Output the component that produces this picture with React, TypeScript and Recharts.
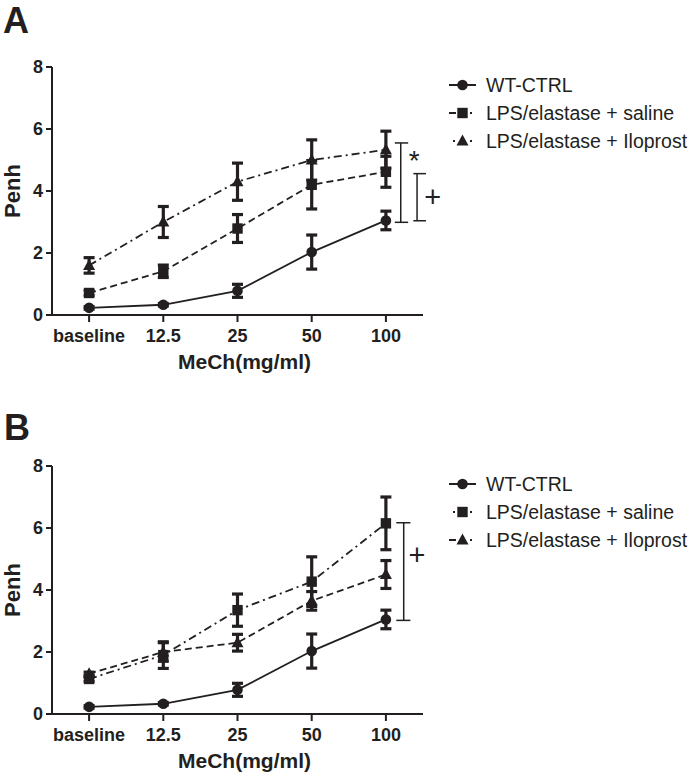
import React from 'react';
import { LineChart, Line, XAxis, YAxis, ErrorBar, ReferenceLine, ReferenceDot, Legend } from 'recharts';

// ---------- data ----------
const categories = ['baseline', '12.5', '25', '50', '100'];
const yTicks = [0, 2, 4, 6, 8];
const seriesNames = ['WT-CTRL', 'LPS/elastase + saline', 'LPS/elastase + Iloprost'];

const wtMean = [0.23, 0.33, 0.78, 2.03, 3.05];
const wtErr = [0.04, 0.04, 0.21, 0.55, 0.3];

const salineMeanA = [0.71, 1.41, 2.79, 4.2, 4.62];
const salineErrA = [0.08, 0.2, 0.45, 0.78, 0.5];
const iloMeanA = [1.6, 3.0, 4.3, 5.0, 5.33];
const iloErrA = [0.25, 0.5, 0.6, 0.65, 0.6];

const salineMeanB = [1.13, 1.9, 3.35, 4.27, 6.15];
const salineErrB = [0.08, 0.43, 0.52, 0.8, 0.85];
const iloMeanB = [1.3, 2.0, 2.3, 3.65, 4.5];
const iloErrB = [0.05, 0.3, 0.27, 0.3, 0.45];

// significance brackets (Penh range spanned, mark)
const bracketsA = [
  { low: 2.99, high: 5.55, mark: '*' },
  { low: 3.04, high: 4.56, mark: '+' },
];
const bracketsB = [{ low: 3.02, high: 6.17, mark: '+' }];

// ---------- styles ----------
const INK = '#231f20';
const SANS = '"Liberation Sans", Arial, Helvetica, sans-serif';
const DASH = '7 4';
const DASHDOT = '8 4 2 4';

const buildRows = (wt: number[], we: number[], sal: number[], se: number[], ilo: number[], ie: number[]) =>
  categories.map((c, i) => ({
    x: i,
    label: c,
    wt: wt[i],
    wtErr: we[i],
    sal: sal[i],
    salErr: se[i],
    ilo: ilo[i],
    iloErr: ie[i],
  }));

const dataA = buildRows(wtMean, wtErr, salineMeanA, salineErrA, iloMeanA, iloErrA);
const dataB = buildRows(wtMean, wtErr, salineMeanB, salineErrB, iloMeanB, iloErrB);

type Shape = 'circle' | 'square' | 'triangle';

function Marker({ shape, cx, cy }: { shape: Shape; cx: number; cy: number }) {
  if (shape === 'circle') return <circle cx={cx} cy={cy} r={5.3} fill={INK} />;
  if (shape === 'square') return <rect x={cx - 5.2} y={cy - 5.2} width={10.4} height={10.4} fill={INK} />;
  return <polygon points={`${cx},${cy - 6.5} ${cx + 6},${cy + 4.5} ${cx - 6},${cy + 4.5}`} fill={INK} />;
}

type Seg = 'line' | 'dash' | 'dot';
type SeriesCfg = { key: string; name: string; shape: Shape; dash?: string; left: Seg; right: Seg };

const seriesA: SeriesCfg[] = [
  { key: 'wt', name: seriesNames[0], shape: 'circle', left: 'line', right: 'line' },
  { key: 'sal', name: seriesNames[1], shape: 'square', dash: DASH, left: 'dash', right: 'dot' },
  { key: 'ilo', name: seriesNames[2], shape: 'triangle', dash: DASHDOT, left: 'dot', right: 'dot' },
];
const seriesB: SeriesCfg[] = [
  { key: 'wt', name: seriesNames[0], shape: 'circle', left: 'line', right: 'line' },
  { key: 'sal', name: seriesNames[1], shape: 'square', dash: DASHDOT, left: 'dot', right: 'dot' },
  { key: 'ilo', name: seriesNames[2], shape: 'triangle', dash: DASH, left: 'dash', right: 'dot' },
];

function LegendSym({ s }: { s: SeriesCfg }) {
  const y = 10;
  const seg = (kind: Seg, side: 'l' | 'r') => {
    if (side === 'l') {
      if (kind === 'line') return <line x1={0} y1={y} x2={13} y2={y} stroke={INK} strokeWidth={2} />;
      if (kind === 'dash') return <line x1={0} y1={y} x2={7} y2={y} stroke={INK} strokeWidth={2} />;
      return <line x1={4} y1={y} x2={6} y2={y} stroke={INK} strokeWidth={2} />;
    }
    if (kind === 'line') return <line x1={14} y1={y} x2={27} y2={y} stroke={INK} strokeWidth={2} />;
    if (kind === 'dash') return <line x1={20} y1={y} x2={27} y2={y} stroke={INK} strokeWidth={2} />;
    return <line x1={21} y1={y} x2={23} y2={y} stroke={INK} strokeWidth={2} />;
  };
  return (
    <svg width={28} height={20} style={{ display: 'block' }}>
      {seg(s.left, 'l')}
      {seg(s.right, 'r')}
      <Marker shape={s.shape} cx={13.5} cy={y} />
    </svg>
  );
}

function LegendBox({ series }: { series: SeriesCfg[] }) {
  return (
    <div style={{ fontFamily: SANS, fontSize: 19.5, color: INK }}>
      {series.map((s) => (
        <div key={s.key} style={{ display: 'flex', alignItems: 'center', height: 28, whiteSpace: 'nowrap' }}>
          <LegendSym s={s} />
          <span style={{ marginLeft: 9 }}>{s.name}</span>
        </div>
      ))}
    </div>
  );
}

type BracketLayout = { x: number; capL: number; capR: number; mx: number; my: number; size: number; dy: number };

const bracketLayoutA: BracketLayout[] = [
  { x: 4.2, capL: 4.12, capR: 4.3, mx: 4.38, my: 5.2, size: 28, dy: 16 },
  { x: 4.42, capL: 4.37, capR: 4.54, mx: 4.63, my: 3.8, size: 29, dy: 10 },
];
const bracketLayoutB: BracketLayout[] = [{ x: 4.24, capL: 4.14, capR: 4.33, mx: 4.42, my: 5.12, size: 29, dy: 10 }];

function Panel({
  data,
  series,
  brackets,
  layout,
  height,
}: {
  data: any[];
  series: SeriesCfg[];
  brackets: { low: number; high: number; mark: string }[];
  layout: BracketLayout[];
  height: number;
}) {
  const tickStyle = { fontSize: 18, fontWeight: 'bold' as const, fill: INK, fontFamily: SANS };
  return (
    <LineChart
      width={688}
      height={height}
      data={data}
      margin={{ top: 67, right: 265, left: 0, bottom: height - 315 - 60 }}
    >
      <XAxis
        dataKey="x"
        type="number"
        domain={[-0.5, 4.5]}
        ticks={[0, 1, 2, 3, 4]}
        tickFormatter={(v: number) => categories[v]}
        allowDataOverflow
        height={60}
        axisLine={{ stroke: INK, strokeWidth: 2 }}
        tickLine={{ stroke: INK, strokeWidth: 2 }}
        tickSize={7}
        tickMargin={7}
        tick={tickStyle}
        interval={0}
        label={{
          value: 'MeCh(mg/ml)',
          position: 'insideBottom',
          offset: 6,
          dx: 7,
          style: { fontSize: 21, fontWeight: 'bold', fill: INK, fontFamily: SANS },
        }}
      />
      <YAxis
        type="number"
        domain={[0, 8]}
        ticks={yTicks}
        width={52}
        axisLine={{ stroke: INK, strokeWidth: 2 }}
        tickLine={{ stroke: INK, strokeWidth: 2 }}
        tickSize={6}
        tickMargin={3}
        tick={tickStyle}
        label={{
          value: 'Penh',
          angle: -90,
          position: 'insideLeft',
          offset: 12,
          style: { textAnchor: 'middle', fontSize: 22, fontWeight: 'bold', fill: INK, fontFamily: SANS },
        }}
      />
      {brackets.map((b, i) => {
        const l = layout[i];
        return (
          <ReferenceLine
            key={`v${i}`}
            segment={[
              { x: l.x, y: b.low },
              { x: l.x, y: b.high },
            ]}
            stroke={INK}
            strokeWidth={1.5}
            ifOverflow="visible"
          />
        );
      })}
      {brackets.map((b, i) => {
        const l = layout[i];
        return (
          <ReferenceLine
            key={`t${i}`}
            segment={[
              { x: l.capL, y: b.high },
              { x: l.capR, y: b.high },
            ]}
            stroke={INK}
            strokeWidth={1.5}
            ifOverflow="visible"
          />
        );
      })}
      {brackets.map((b, i) => {
        const l = layout[i];
        return (
          <ReferenceLine
            key={`b${i}`}
            segment={[
              { x: l.capL, y: b.low },
              { x: l.capR, y: b.low },
            ]}
            stroke={INK}
            strokeWidth={1.5}
            ifOverflow="visible"
          />
        );
      })}
      {brackets.map((b, i) => {
        const l = layout[i];
        return (
          <ReferenceDot
            key={`m${i}`}
            x={l.mx}
            y={l.my}
            r={0}
            ifOverflow="visible"
            shape={(p: any) => (
              <text
                x={p.cx}
                y={p.cy + l.dy}
                textAnchor="middle"
                fontSize={l.size}
                fontFamily={SANS}
                fill={INK}
              >
                {b.mark}
              </text>
            )}
          />
        );
      })}
      {series.map((s) => (
        <Line
          key={s.key}
          dataKey={s.key}
          name={s.name}
          stroke={INK}
          strokeWidth={1.8}
          strokeDasharray={s.dash}
          isAnimationActive={false}
          dot={(p: any) => <Marker key={`${s.key}-${p.index}`} shape={s.shape} cx={p.cx} cy={p.cy} />}
          activeDot={false}
        >
          <ErrorBar
            dataKey={`${s.key}Err`}
            direction="y"
            width={5.5}
            strokeWidth={3.2}
            stroke={INK}
            isAnimationActive={false}
          />
        </Line>
      ))}
      <Legend
        layout="horizontal"
        verticalAlign="middle"
        align="center"
        wrapperStyle={{ left: 449, top: 71, width: 239 }}
        content={() => <LegendBox series={series} />}
      />
    </LineChart>
  );
}

const letterStyle: React.CSSProperties = {
  position: 'absolute',
  fontFamily: SANS,
  fontWeight: 'bold',
  fontSize: 36,
  lineHeight: '36px',
  color: INK,
};

export default function App() {
  return (
    <div
      style={{
        position: 'absolute',
        left: 0,
        top: 0,
        width: 688,
        height: 777,
        background: '#fff',
        overflow: 'hidden',
      }}
    >
      <div style={{ position: 'absolute', left: 0, top: 0 }}>
        <Panel data={dataA} series={seriesA} brackets={bracketsA} layout={bracketLayoutA} height={390} />
      </div>
      <div style={{ position: 'absolute', left: 0, top: 399 }}>
        <Panel data={dataB} series={seriesB} brackets={bracketsB} layout={bracketLayoutB} height={378} />
      </div>
      <div style={{ ...letterStyle, left: 3, top: 3 }}>A</div>
      <div style={{ ...letterStyle, left: 4, top: 410 }}>B</div>
    </div>
  );
}
